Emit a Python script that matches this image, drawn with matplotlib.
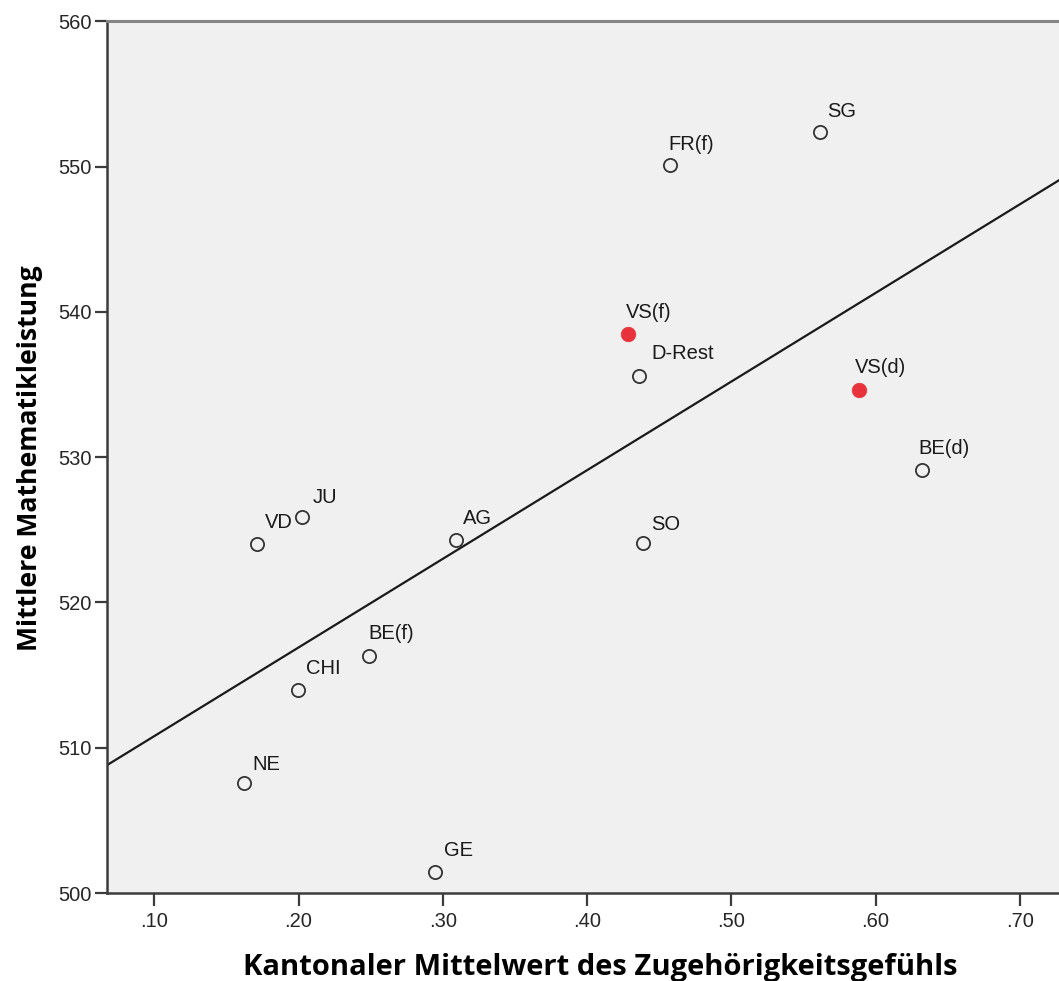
import numpy as np
import matplotlib
matplotlib.use("Agg")
import matplotlib.pyplot as plt

# canton means: sense of belonging (x) vs. mean maths score (y)
kantone = ["SG", "FR(f)", "VS(f)", "D-Rest", "VS(d)", "BE(d)", "JU", "VD",
           "AG", "SO", "BE(f)", "CHI", "NE", "GE"]
zugehoerigkeit = [0.5615, 0.4575, 0.4282, 0.4362, 0.5887, 0.632, 0.2026,
                  0.171, 0.3089, 0.4388, 0.249, 0.1998, 0.1622, 0.2946]
mathe = [552.4, 550.1, 538.5, 535.6, 534.6, 529.1, 525.9, 524.0, 524.3,
         524.1, 516.3, 513.95, 507.6, 501.45]
hervorgehoben = ["VS(f)", "VS(d)"]

# linear fit line
achsenabschnitt = 504.7
steigung = 61.0

# label nudges in pixels (right, up) from the marker centre
versatz = {
    "SG": (7, 15), "FR(f)": (-2, 15), "VS(f)": (-2, 16), "D-Rest": (12, 17),
    "VS(d)": (-4, 17), "BE(d)": (-3, 16), "JU": (10, 14), "VD": (8, 16),
    "AG": (7, 16), "SO": (8, 13), "BE(f)": (-1, 17), "CHI": (8, 16),
    "NE": (8, 13), "GE": (9, 16),
}

plt.rcParams["font.family"] = ["Liberation Sans", "DejaVu Sans"]

W, H = 1059, 981
fig = plt.figure(figsize=(W / 100, H / 100), dpi=100)
ax = fig.add_axes([107 / W, 88 / H, 1 - 107 / W, (892.7 - 21) / H])
ax.set_facecolor("#f0f0f0")

x0, x1 = 0.0672, 0.7272
ax.set_xlim(x0, x1)
ax.set_ylim(500, 560)

xs = np.array([x0, x1])
ax.plot(xs, achsenabschnitt + steigung * xs, color="#1a1a1a", lw=1.6, zorder=2)

for name, x, y in zip(kantone, zugehoerigkeit, mathe):
    if name in hervorgehoben:
        ax.plot(x, y, "o", ms=10.5, mfc="#e8323c", mec="#e8323c", mew=0.5,
                zorder=3)
    else:
        ax.plot(x, y, "o", ms=9.5, mfc="none", mec="#333333", mew=1.3,
                zorder=3)
    dx, dy = versatz[name]
    ax.annotate(name, (x, y), xytext=(dx * 0.72, dy * 0.72),
                textcoords="offset points", ha="left", va="baseline",
                fontsize=14.5, color="#1a1a1a")

ax.set_xticks([0.1, 0.2, 0.3, 0.4, 0.5, 0.6, 0.7])
ax.set_xticklabels([".10", ".20", ".30", ".40", ".50", ".60", ".70"])
ax.set_yticks([500, 510, 520, 530, 540, 550, 560])
ax.tick_params(axis="both", direction="out", length=9, width=1.6,
               color="#3c3c3c", labelsize=14.5, labelcolor="#262626")
ax.tick_params(axis="x", pad=5)
ax.tick_params(axis="y", pad=2)

for side in ["left", "bottom"]:
    ax.spines[side].set_color("#3c3c3c")
    ax.spines[side].set_linewidth(1.8)
ax.spines["top"].set_color("#858585")
ax.spines["top"].set_linewidth(2.2)
ax.spines["right"].set_visible(False)

titel_font = ["Open Sans", "DejaVu Sans"]
fig.text(600 / W, 1 - 975 / H, "Kantonaler Mittelwert des Zugehörigkeitsgefühls",
         family=titel_font, fontweight="bold", fontsize=21,
         ha="center", va="baseline")
fig.text(30 / W, 1 - 458 / H, "Mittlere Mathematikleistung",
         family=titel_font, fontweight="bold", fontsize=19.2,
         rotation=90, ha="center", va="center")

fig.savefig("out.png", dpi=100)
